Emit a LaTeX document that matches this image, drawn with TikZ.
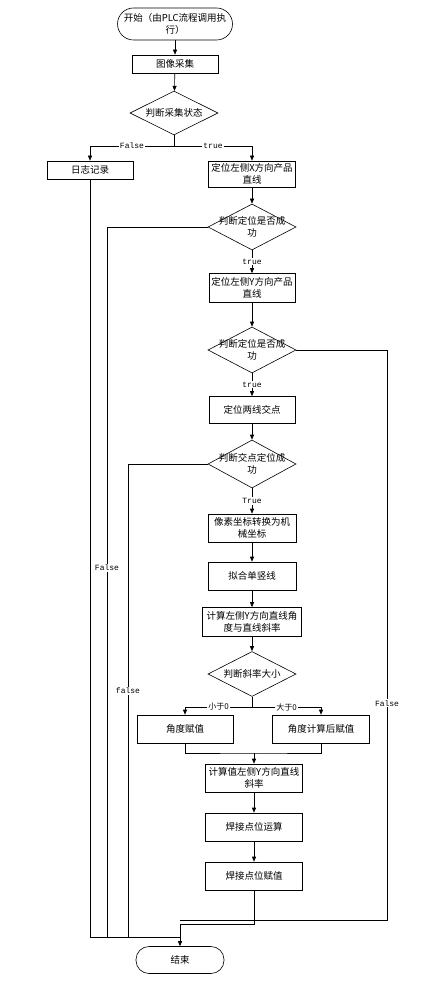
\documentclass[tikz,border=0pt]{standalone}
\usepackage{fontspec}
\newfontfamily\cjk{Noto Sans CJK SC}
\newfontfamily\lblfont{Liberation Mono}
\usetikzlibrary{shapes.geometric,arrows.meta}

\begin{document}
\begin{tikzpicture}[x=1pt,y=-1pt,line width=0.6pt,
  font={\cjk\fontsize{9.5}{12}\selectfont},
  box/.style={draw,rectangle,minimum height=28pt,minimum width=88pt,inner sep=1pt,align=center},
  term/.style={draw,rectangle,rounded corners=13pt,minimum width=88pt,minimum height=27pt,align=center},
  dec/.style={draw,diamond,minimum width=88pt,minimum height=46pt,inner sep=0pt},
  arr/.style={-{Triangle[length=5pt,width=4pt]}},
  lbl/.style={font={\lblfont\fontsize{8}{9}\selectfont},fill=white,inner sep=1pt},
  lblc/.style={font={\cjk\fontsize{8}{9}\selectfont},fill=white,inner sep=1pt}]

\useasboundingbox (0,0) rectangle (424,984);

% main column
\node[term,minimum width=115pt,minimum height=32pt,rounded corners=16pt] (st) at (175,24) {开始（由PLC流程调用执\\行）};
\node[box,minimum width=86pt,minimum height=18pt] (img) at (175,64) {图像采集};
\node[dec,minimum height=44pt,label={center:判断采集状态}] (d1) at (174,113) {};
\node[box,minimum width=86pt,minimum height=18pt] (log) at (90,170) {日志记录};
\node[box,minimum width=87pt,minimum height=26pt] (px) at (252,174) {定位左侧X方向产品\\直线};
\node[dec,label={[align=center]center:判断定位是否成\\功}] (d2) at (252,227) {};
\node[box,minimum width=86pt,minimum height=29pt] (py) at (252,288) {定位左侧Y方向产品\\直线};
\node[dec,label={[align=center]center:判断定位是否成\\功}] (d3) at (252,350) {};
\node[box,minimum width=86pt,minimum height=27pt] (cross) at (252,410) {定位两线交点};
\node[dec,minimum height=48pt,label={[align=center]center:判断交点定位成\\功}] (d4) at (252,464) {};
\node[box] (conv) at (252,528) {像素坐标转换为机\\械坐标};
\node[box] (fitl) at (252,576) {拟合单竖线};
\node[box,minimum width=99pt,minimum height=29pt] (calc) at (252,622) {计算左侧Y方向直线角\\度与直线斜率};
\node[dec,minimum height=45pt,label={center:判断斜率大小}] (d5) at (252,674) {};
\node[box,minimum width=96pt] (angA) at (185,729) {角度赋值};
\node[box,minimum width=97pt] (angB) at (321,729) {角度计算后赋值};
\node[box,minimum width=97pt] (slope) at (254,778) {计算值左侧Y方向直线\\斜率};
\node[box,minimum width=97pt] (weld) at (254,827) {焊接点位运算};
\node[box,minimum width=97pt] (wset) at (254,876) {焊接点位赋值};
\node[term] (end) at (180,960) {结束};

\coordinate (b1) at (174,146);
\coordinate (b2) at (252,707);
\coordinate (mg) at (254,753);
\coordinate (jn) at (180,937);
\coordinate (jr) at (180,920);
\coordinate (fl1) at (107,937);
\coordinate (fl2) at (128,937);
\coordinate (fr) at (387,920);

% connectors
\draw[arr] (st) -- (img);
\draw[arr] (img) -- (d1);
\draw (d1) -- (b1);
\draw[arr] (b1) -| node[lbl,pos=.25]{False} (log);
\draw[arr] (b1) -| node[lbl,pos=.25]{true} (px);
\draw[arr] (px) -- (d2);
\draw[arr] (d2) -- node[lbl]{true} (py);
\draw[arr] (py) -- (d3);
\draw[arr] (d3) -- node[lbl]{true} (cross);
\draw[arr] (cross) -- (d4);
\draw[arr] (d4) -- node[lbl]{True} (conv);
\draw[arr] (conv) -- (fitl);
\draw[arr] (fitl) -- (calc);
\draw[arr] (calc) -- (d5);
\draw (d5) -- (b2);
\draw[arr] (b2) -| node[lblc,pos=.25]{小于0} (angA);
\draw[arr] (b2) -| node[lblc,pos=.25]{大于0} (angB);
\draw (angA.south) |- (mg) -| (angB.south);
\draw[arr] (mg) -- (slope);
\draw[arr] (slope) -- (weld);
\draw[arr] (weld) -- (wset);
\draw[arr] (wset.south) -- ++(0,34) -| (end);

% false branches
\draw (log) |- (jn);
\draw (d2) -| node[lbl,pos=.74]{False} (fl1) -- (jn);
\draw (d4) -| node[lbl,pos=.74]{false} (fl2) -- (jn);
\draw (d3) -| node[lbl,pos=.81]{False} (fr) -- (jr);

\end{tikzpicture}
\end{document}
